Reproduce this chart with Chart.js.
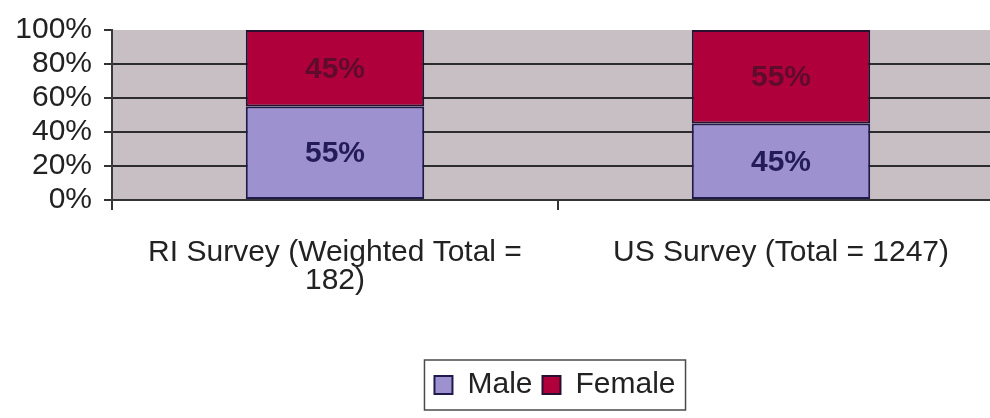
<!DOCTYPE html>
<html><head><meta charset="utf-8">
<script src="https://cdn.jsdelivr.net/npm/chart.js@4/dist/chart.umd.min.js"></script>
<style>
html,body{margin:0;padding:0;background:#fff;overflow:hidden;width:990px;height:418px}
#wrap{width:1010px;height:418px}
</style>
</head><body>
<div id="wrap"><canvas id="c" width="1010" height="418" style="width:1010px;height:418px"></canvas></div>
<script>
const categories = [["RI Survey (Weighted Total =", "182)"], "US Survey (Total = 1247)"];
const seriesNames = ["Male", "Female"];
const maleValues = [55, 45];
const femaleValues = [45, 55];
const yTickValues = [0, 20, 40, 60, 80, 100];

const FONT = "'Liberation Sans', Arial, sans-serif";

const plotBg = {
  id: 'plotBg',
  beforeDraw(chart) {
    const a = chart.chartArea, ctx = chart.ctx;
    ctx.save();
    ctx.fillStyle = '#c8bfc4';
    ctx.fillRect(a.left, a.top, a.right - a.left, a.bottom - a.top);
    ctx.restore();
  }
};

const legendShift = {
  id: 'legendShift',
  afterLayout(chart) {
    const lg = chart.legend;
    if (!lg) return;
    const shift = 53;
    lg.left += shift;
    lg.right += shift;
  }
};

const barLabels = {
  id: 'barLabels',
  afterDatasetsDraw(chart) {
    const ctx = chart.ctx;
    const colors = ['#231c58', '#5e0b2c'];
    ctx.save();
    ctx.font = "bold 30px " + FONT;
    ctx.textAlign = 'center';
    ctx.textBaseline = 'middle';
    chart.data.datasets.forEach((ds, di) => {
      const meta = chart.getDatasetMeta(di);
      meta.data.forEach((el, i) => {
        const y = (el.y + el.base) / 2;
        ctx.fillStyle = colors[di];
        ctx.fillText(ds.data[i] + '%', el.x, y + 1);
      });
    });
    ctx.restore();
  }
};

const legendBox = {
  id: 'legendBox',
  afterDraw(chart) {
    const lg = chart.legend;
    if (!lg || !lg.legendHitBoxes || !lg.legendHitBoxes.length) return;
    const hb = lg.legendHitBoxes;
    const left = Math.min(...hb.map(h => h.left)) - 10;
    const right = Math.max(...hb.map(h => h.left + h.width)) + 10;
    const ctx = chart.ctx;
    ctx.save();
    ctx.strokeStyle = '#4a4a4a';
    ctx.lineWidth = 1.5;
    ctx.strokeRect(left, lg.top, right - left, lg.bottom - lg.top);
    ctx.restore();
  }
};

new Chart(document.getElementById('c'), {
  type: 'bar',
  data: {
    labels: categories,
    datasets: [
      { label: seriesNames[0], data: maleValues, backgroundColor: '#9d91cf', borderColor: '#1f1a4c', borderWidth: 2, borderSkipped: false },
      { label: seriesNames[1], data: femaleValues, backgroundColor: '#b0003b', borderColor: '#2a1030', borderWidth: 2, borderSkipped: false }
    ]
  },
  options: {
    responsive: false,
    animation: false,
    layout: { padding: { left: 0, right: 6, top: 28, bottom: 8 } },
    datasets: { bar: { barPercentage: 0.4, categoryPercentage: 1.0 } },
    scales: {
      x: {
        stacked: true,
        offset: true,
        grid: { offset: true, drawOnChartArea: false, drawTicks: true, tickLength: 10, color: '#333', lineWidth: 2 },
        border: { display: true, color: '#333', width: 2 },
        ticks: { color: '#222', font: { family: FONT, size: 30, lineHeight: 0.95 }, padding: 28, maxRotation: 0, autoSkip: false },
        afterFit(scale) { scale.height = 160; }
      },
      y: {
        stacked: true,
        min: 0, max: 100,
        afterBuildTicks(scale) { scale.ticks = yTickValues.map(v => ({ value: v })); },
        grid: {
          color: (c) => (c.tick && c.tick.value === 100) ? 'rgba(0,0,0,0)' : '#2c2c2c',
          tickColor: '#333', lineWidth: 2, tickLength: 8, drawTicks: true
        },
        border: { display: true, color: '#3a3a3a', width: 2 },
        ticks: { color: '#222', font: { family: FONT, size: 30 }, padding: 12, autoSkip: false, callback: (v) => v + '%' },
        afterFit(scale) { scale.width = 112; }
      }
    },
    plugins: {
      legend: {
        position: 'bottom',
        labels: { color: '#222', font: { family: FONT, size: 30 }, boxWidth: 18, boxHeight: 18, padding: 10 }
      },
      tooltip: { enabled: false }
    }
  },
  plugins: [plotBg, legendShift, barLabels, legendBox]
});
</script>
</body></html>
